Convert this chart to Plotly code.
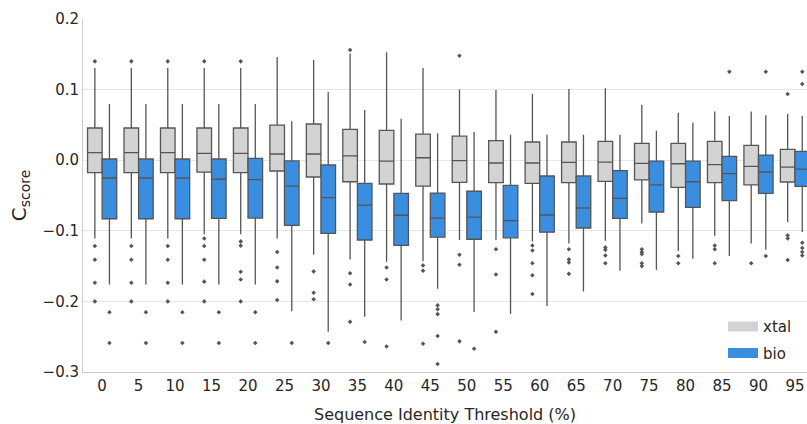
import plotly.graph_objects as go

thresholds = [0, 5, 10, 15, 20, 25, 30, 35, 40, 45, 50, 55, 60, 65, 70, 75, 80, 85, 90, 95]

# xtal box statistics
xtal_q1 = [-0.0177, -0.0177, -0.0177, -0.0170, -0.0177, -0.0153, -0.0238, -0.0305, -0.0337, -0.0366,
           -0.0314, -0.0319, -0.0328, -0.0319, -0.0300, -0.0280, -0.0385, -0.0319, -0.0350, -0.0309]
xtal_med = [0.0106, 0.0106, 0.0106, 0.0097, 0.0097, 0.0088, 0.0088, 0.0060, -0.0012, 0.0035,
            -0.0007, -0.0040, -0.0040, -0.0030, -0.0026, -0.0045, -0.0050, -0.0064, -0.0088, -0.0097]
xtal_q3 = [0.0456, 0.0456, 0.0456, 0.0456, 0.0456, 0.0498, 0.0513, 0.0437, 0.0422, 0.0370,
           0.0340, 0.0276, 0.0258, 0.0258, 0.0267, 0.0238, 0.0238, 0.0267, 0.0210, 0.0153]
xtal_lo = [-0.111, -0.111, -0.111, -0.105, -0.105, -0.111, -0.134, -0.1405, -0.144, -0.143,
           -0.113, -0.113, -0.115, -0.118, -0.114, -0.0895, -0.129, -0.107, -0.118, -0.0875]
xtal_hi = [0.1306, 0.1306, 0.1306, 0.1306, 0.1306, 0.146, 0.142, 0.151, 0.153, 0.1306,
           0.100, 0.0994, 0.0938, 0.101, 0.102, 0.0786, 0.0673, 0.069, 0.069, 0.0654]
xtal_out = [
    [0.140, -0.1216, -0.141, -0.1735, -0.200],
    [0.140, -0.1216, -0.141, -0.1735, -0.200],
    [0.140, -0.1216, -0.141, -0.1735, -0.200],
    [0.140, -0.111, -0.1216, -0.141, -0.172, -0.200],
    [0.140, -0.115, -0.121, -0.158, -0.169, -0.200],
    [-0.130, -0.152, -0.1716, -0.198],
    [-0.1575, -0.1877, -0.197],
    [0.156, -0.160, -0.176, -0.229],
    [-0.152, -0.169, -0.264],
    [-0.149, -0.1565, -0.260],
    [0.148, -0.134, -0.148, -0.2566],
    [-0.126, -0.162, -0.243],
    [-0.1207, -0.128, -0.146, -0.163, -0.1895],
    [-0.126, -0.1405, -0.145, -0.161],
    [-0.1235, -0.127, -0.135, -0.146],
    [-0.126, -0.130, -0.133, -0.146, -0.150],
    [-0.1357, -0.146],
    [-0.1207, -0.126, -0.146],
    [-0.146],
    [0.0938, -0.1065, -0.111, -0.1414],
]

# bio box statistics
bio_q1 = [-0.0829, -0.0829, -0.0829, -0.0825, -0.0820, -0.0923, -0.1036, -0.113, -0.1207, -0.109,
          -0.112, -0.110, -0.102, -0.096, -0.0824, -0.0734, -0.0668, -0.0574, -0.047, -0.037]
bio_med = [-0.0252, -0.0252, -0.0252, -0.027, -0.0275, -0.0366, -0.053, -0.0635, -0.078, -0.082,
           -0.0805, -0.0857, -0.0776, -0.0677, -0.054, -0.035, -0.0305, -0.0191, -0.0167, -0.0125]
bio_q3 = [0.0017, 0.0017, 0.0017, 0.0017, 0.0025, -0.001, -0.0068, -0.0328, -0.047, -0.0465,
          -0.044, -0.0357, -0.0224, -0.0224, -0.0149, -0.0012, -0.0012, 0.0054, 0.0073, 0.0125]
bio_lo = [-0.176, -0.176, -0.176, -0.176, -0.176, -0.214, -0.243, -0.2217, -0.227, -0.182,
          -0.215, -0.218, -0.2065, -0.186, -0.1565, -0.1556, -0.1395, -0.1357, -0.127, -0.1017]
bio_hi = [0.0796, 0.0796, 0.0796, 0.0796, 0.0796, 0.055, 0.0966, 0.071, 0.0588, 0.038,
          0.040, 0.036, 0.036, 0.036, 0.036, 0.0418, 0.053, 0.0626, 0.0635, 0.0626]
bio_out = [
    [-0.2155, -0.259],
    [-0.2155, -0.259],
    [-0.2155, -0.259],
    [-0.2155, -0.259],
    [-0.2155, -0.259],
    [-0.259],
    [-0.259],
    [-0.2575],
    [],
    [-0.2056, -0.211, -0.218, -0.249, -0.2887],
    [-0.267],
    [],
    [],
    [],
    [],
    [],
    [],
    [0.1253],
    [0.1253, -0.1357],
    [0.1253, 0.108, -0.117, -0.1244, -0.130, -0.135],
]

series_names = ["xtal", "bio"]
fill_colors = ["#d3d3d3", "#3a8ee0"]
edge_color = "#555555"
text_color = "#262626"
FONT = "DejaVu Sans"

idx = list(range(len(thresholds)))
group_width = 0.8
n_groups = 2
bw = group_width / n_groups

fig = go.Figure()
series = [
    (xtal_q1, xtal_med, xtal_q3, xtal_lo, xtal_hi, xtal_out),
    (bio_q1, bio_med, bio_q3, bio_lo, bio_hi, bio_out),
]
for k, (q1, med, q3, lo, hi, outl) in enumerate(series):
    off = -group_width / 2 + bw * (k + 0.5)
    pos = [i + off for i in idx]
    fig.add_trace(go.Box(
        x=pos, q1=q1, median=med, q3=q3, lowerfence=lo, upperfence=hi,
        width=bw, name=series_names[k], fillcolor=fill_colors[k],
        line=dict(color=edge_color, width=1.3), whiskerwidth=0,
        boxpoints=False, hoverinfo="skip", showlegend=False,
        legendgroup=series_names[k],
    ))
    ox, oy = [], []
    for i, vals in zip(idx, outl):
        for v in vals:
            ox.append(i + off)
            oy.append(v)
    fig.add_trace(go.Scatter(
        x=ox, y=oy, mode="markers", showlegend=False,
        marker=dict(symbol="diamond", size=3.5, color=edge_color),
        hoverinfo="skip", legendgroup=series_names[k],
    ))
    # legend entry: wide patch in the series colour
    fig.add_trace(go.Scatter(
        x=[None], y=[None], mode="lines", name=series_names[k],
        line=dict(color=fill_colors[k], width=11),
        legendgroup=series_names[k], showlegend=True,
    ))

fig.update_layout(
    width=807, height=424,
    margin=dict(l=83, r=0, t=19, b=52, autoexpand=False),
    paper_bgcolor="white", plot_bgcolor="white",
    font=dict(family=FONT, size=15, color=text_color),
    showlegend=True,
    legend=dict(x=0.884, y=0.175, xanchor="left", yanchor="top",
                bgcolor="rgba(255,255,255,0)", font=dict(size=15),
                itemwidth=30, tracegroupgap=4),
)
fig.update_xaxes(
    range=[-0.525, 19.33], tickmode="array", tickvals=idx,
    ticktext=[str(t) for t in thresholds],
    showgrid=False, zeroline=False, showline=True, automargin=False,
    linecolor="#cccccc", linewidth=1, ticks="",
    title=dict(text="Sequence Identity Threshold (%)", font=dict(size=16), standoff=16),
)
fig.update_yaxes(
    range=[-0.3, 0.2], dtick=0.1, tick0=0, tickformat=".1f", automargin=False,
    showgrid=True, gridcolor="#e6e6e6", gridwidth=1,
    zeroline=False, showline=True, linecolor="#cccccc", linewidth=1, ticks="",
    title=dict(text="C<sub>score</sub>", font=dict(size=20), standoff=10),
)

fig.write_html(
    "out.html",
    config={"displayModeBar": False},
    post_script="document.body.style.margin='0';document.body.style.overflow='hidden';",
)
